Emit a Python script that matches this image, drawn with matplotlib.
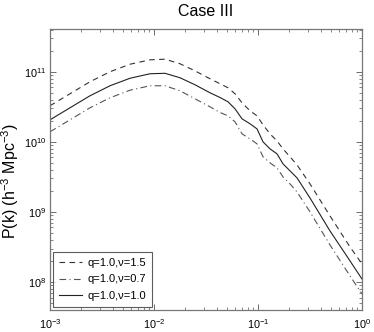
import matplotlib
matplotlib.use("Agg")
import matplotlib.pyplot as plt
from matplotlib.ticker import LogLocator, NullFormatter

plt.rcParams['font.family'] = ['Liberation Sans', 'DejaVu Sans']
plt.rcParams['mathtext.default'] = 'regular'

k = [0.001, 0.001557, 0.002424, 0.003775, 0.005876, 0.009153, 0.01276, 0.01778,
     0.02478, 0.03455, 0.04311, 0.05146, 0.06009, 0.07017, 0.08377, 0.09781,
     0.1117, 0.1304, 0.1523, 0.1739, 0.2031, 0.2371, 0.3162, 0.4923, 0.7666, 1.0]

p_nu15 = [3.27e10, 4.85e10, 7.2e10, 1.0e11, 1.28e11, 1.48e11, 1.51e11, 1.30e11,
          1.03e11, 7.94e10, 6.74e10, 5.91e10, 4.85e10, 3.61e10, 2.77e10, 2.35e10,
          1.75e10, 1.30e10, 1.03e10, 7.94e9, 6.11e9, 4.69e9, 2.51e9, 8.77e8, 3.16e8, 1.81e8]

p_nu07 = [1.39e10, 2.06e10, 3.06e10, 4.25e10, 5.45e10, 6.31e10, 6.31e10, 5.35e10,
          4.11e10, 3.16e10, 2.62e10, 2.35e10, 1.93e10, 1.30e10, 1.10e10, 9.36e9,
          6.11e9, 5.01e9, 4.26e9, 3.16e9, 2.51e9, 1.93e9, 1.0e9, 3.38e8, 1.22e8, 6.75e7]

p_nu10 = [2.06e10, 3.06e10, 4.54e10, 6.31e10, 8.07e10, 9.36e10, 9.5e10, 8.21e10,
          6.52e10, 5.01e10, 4.29e10, 3.73e10, 2.96e10, 2.13e10, 1.81e10, 1.53e10,
          1.0e10, 7.94e9, 6.74e9, 4.85e9, 3.85e9, 3.06e9, 1.58e9, 5.35e8, 2.0e8, 1.10e8]

labels = ['q=1.0,\u03bd=1.5', 'q=1.0,\u03bd=0.7', 'q=1.0,\u03bd=1.0']

fig = plt.figure(figsize=(3.74, 3.32), dpi=100)
ax = fig.add_axes([50/374, 22/332, 312/374, 281/332])

ax.plot(k, p_nu15, color='#333333', lw=0.8, linestyle=(0, (5, 4)), label=labels[0])
ax.plot(k, p_nu07, color='#555555', lw=0.8, linestyle=(0, (6, 3, 1, 3)), label=labels[1])
ax.plot(k, p_nu10, color='#222222', lw=0.8, linestyle='-', label=labels[2])

ax.set_xscale('log')
ax.set_yscale('log')
ax.set_xlim(1e-3, 1.0)
ax.set_ylim(10**7.6, 10**11.61)

ax.xaxis.set_major_locator(LogLocator(base=10, numticks=10))
ax.yaxis.set_major_locator(LogLocator(base=10, numticks=10))
ax.xaxis.set_minor_locator(LogLocator(base=10, subs=range(2, 10), numticks=20))
ax.yaxis.set_minor_locator(LogLocator(base=10, subs=range(2, 10), numticks=20))
ax.xaxis.set_minor_formatter(NullFormatter())
ax.yaxis.set_minor_formatter(NullFormatter())

ax.tick_params(which='both', direction='in', top=True, right=True, color='#555555',
               labelsize=7.8)
ax.tick_params(which='major', length=4, width=0.6)
ax.tick_params(which='minor', length=2, width=0.5)
ax.tick_params(axis='x', pad=5)
ax.tick_params(axis='y', pad=3)

for s in ax.spines.values():
    s.set_color('#777777')
    s.set_linewidth(0.9)

ax.set_title('Case III', fontsize=11.5, pad=9)
ax.set_ylabel('P(k) (h$^{-3}$ Mpc$^{-3}$)', fontsize=11.5)
ax.yaxis.set_label_coords(-0.092, 0.46)

leg = ax.legend(loc='lower left', fontsize=8, frameon=True, fancybox=False,
                borderaxespad=0.3, handlelength=2.1, labelspacing=0.6,
                borderpad=0.5, handletextpad=0.5)
leg.get_frame().set_edgecolor('#333333')
leg.get_frame().set_linewidth(0.8)

fig.savefig('out.png', dpi=100)
